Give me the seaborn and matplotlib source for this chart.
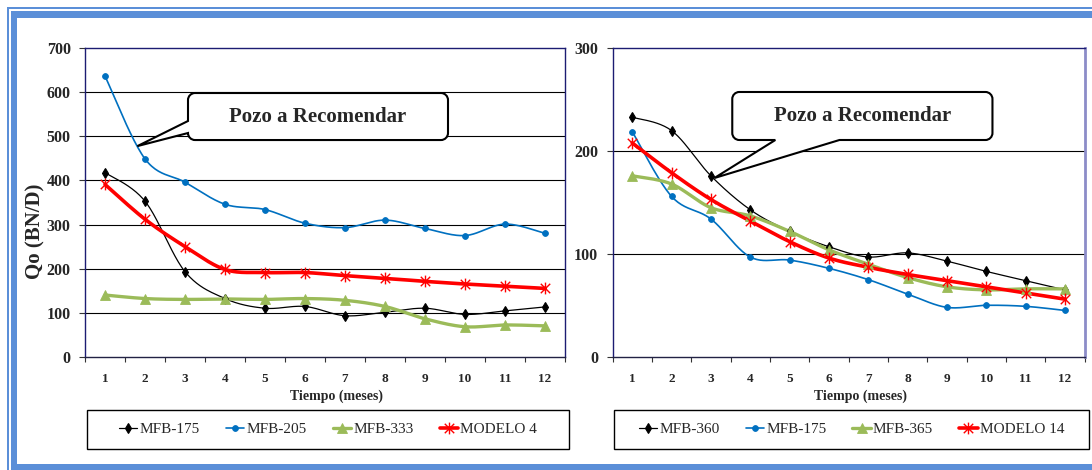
import numpy as np
import matplotlib
matplotlib.use("Agg")
import matplotlib.pyplot as plt
import seaborn as sns
from matplotlib.path import Path
from matplotlib.patches import PathPatch, Rectangle
from matplotlib.lines import Line2D
from matplotlib.transforms import IdentityTransform

# ---------------- datos ----------------
meses = list(range(1, 13))

# Panel izquierdo
mfb_175_a = [418, 353, 193, 132, 110, 114, 93, 101, 110, 96, 104, 113]
mfb_205 = [637, 449, 396, 346, 334, 303, 293, 310, 291, 275, 301, 280]
mfb_333 = [140, 132, 130, 131, 130, 132, 128, 114, 86, 68, 72, 70]
modelo_4 = [391, 312, 250, 198, 191, 191, 184, 178, 171, 165, 160, 155]

# Panel derecho
mfb_360 = [233, 220, 176, 143, 122, 107, 97, 101, 93, 83, 74, 65]
mfb_175_b = [219, 156, 134, 97, 94, 86, 75, 61, 48, 50, 49, 45]
mfb_365 = [176, 168, 145, 137, 122, 104, 90, 77, 68, 65, 66, 66]
modelo_14 = [208, 179, 153, 132, 112, 96, 87, 80, 74, 68, 62, 56]

etiquetas_izq = ["MFB-175", "MFB-205", "MFB-333", "MODELO 4"]
etiquetas_der = ["MFB-360", "MFB-175", "MFB-365", "MODELO 14"]
yticks_izq = [0, 100, 200, 300, 400, 500, 600, 700]
yticks_der = [0, 100, 200, 300]

# ---------------- estilo ----------------
sns.set_theme(style="white")
plt.rcParams["font.family"] = ["Liberation Serif", "DejaVu Serif"]

W, H = 1092, 470
fig = plt.figure(figsize=(W / 100, H / 100), dpi=100)
fig.patch.set_facecolor("white")

NAVY = "#1c1c72"
FRAME = "#5b8fd8"

# marcador estrella tipo Excel: aspa + trazo vertical
star = Path([(-1, -1), (1, 1), (-1, 1), (1, -1), (0, -1.25), (0, 1.25)],
            [Path.MOVETO, Path.LINETO, Path.MOVETO, Path.LINETO, Path.MOVETO, Path.LINETO])

estilos = [
    dict(color="black", lw=0.9, marker="d", ms=5.0, mew=0.8),
    dict(color="#0070c0", lw=1.2, marker="o", ms=4.2, mew=0.6),
    dict(color="#9bbb59", lw=2.4, marker="^", ms=7.0, mew=0.6),
    dict(color="#ff0000", lw=2.6, marker=star, ms=8.5, mew=1.0),
]


def px(x, y):
    """pixel (desde arriba-izquierda) -> fracción de figura"""
    return x / W, 1 - y / H


def suavizar(x, y, n=24):
    """curva Catmull-Rom que pasa por los puntos (línea suavizada)"""
    x = np.asarray(x, float)
    y = np.asarray(y, float)
    P = np.column_stack([x, y])
    P = np.vstack([P[0], P, P[-1]])
    out = []
    t = np.linspace(0, 1, n, endpoint=False)[:, None]
    for i in range(1, len(P) - 2):
        p0, p1, p2, p3 = P[i - 1], P[i], P[i + 1], P[i + 2]
        seg = 0.5 * (2 * p1 + (-p0 + p2) * t + (2 * p0 - 5 * p1 + 4 * p2 - p3) * t ** 2
                     + (-p0 + 3 * p1 - 3 * p2 + p3) * t ** 3)
        out.append(seg)
    out.append(P[-2][None, :])
    out = np.vstack(out)
    return out[:, 0], out[:, 1]


def panel(rect, series, ymax, yticks, ylabel):
    ax = fig.add_axes(rect)
    ax.set_facecolor("white")
    for vals, st in zip(series, estilos):
        xs, ys = suavizar(meses, vals)
        sns.lineplot(x=xs, y=ys, ax=ax, color=st["color"], lw=st["lw"],
                     sort=False, estimator=None, zorder=3)
        sns.lineplot(x=meses, y=vals, ax=ax, color=st["color"], linestyle="",
                     marker=st["marker"], markersize=st["ms"],
                     markeredgecolor=st["color"], markerfacecolor=st["color"],
                     markeredgewidth=st["mew"], estimator=None, zorder=4)
    ax.set_xlim(0.5, 12.5)
    ax.set_ylim(0, ymax)
    ax.set_yticks(yticks)
    ax.set_yticklabels([str(v) for v in yticks], fontsize=11.5, fontweight="bold")
    ax.set_xticks(meses)
    ax.set_xticklabels([str(m) for m in meses], fontsize=9.5, fontweight="bold")
    ax.set_xticks(np.arange(0.5, 13, 1), minor=True)
    ax.tick_params(axis="x", which="major", length=0, pad=12)
    ax.tick_params(axis="x", which="minor", length=3.5, width=0.8, color="#333333",
                   direction="out", bottom=True)
    ax.tick_params(axis="y", which="major", length=4.3, width=0.8, color="#333333",
                   direction="out", left=True, pad=6)
    for v in yticks[1:-1]:
        ax.axhline(v, color="black", lw=0.8, zorder=1)
    for s in ax.spines.values():
        s.set_visible(True)
        s.set_color(NAVY)
        s.set_linewidth(1.0)
    ax.spines["bottom"].set_color("#222244")
    ax.set_xlabel("Tiempo (meses)", fontsize=10, fontweight="bold", va="top")
    ax.xaxis.set_label_coords(0.525, -0.105)
    if ylabel:
        ax.set_ylabel(ylabel, fontsize=15, fontweight="bold", va="center")
        ax.yaxis.set_label_coords((35 - 85) / 480, (356.7 - 231) / 308.4)
    else:
        ax.set_ylabel("")
    legend = ax.get_legend()
    if legend is not None:
        legend.remove()
    return ax


y_top, y_bot = 48.3, 356.7
l0, b0 = px(85, y_bot)
l1, _ = px(565, y_bot)
r0, _ = px(612.5, y_bot)
r1, _ = px(1084.5, y_bot)
h = (y_bot - y_top) / H

ax1 = panel([l0, b0, l1 - l0, h], [mfb_175_a, mfb_205, mfb_333, modelo_4],
            700, yticks_izq, "Qo (BN/D)")
ax2 = panel([r0, b0, r1 - r0, h], [mfb_360, mfb_175_b, mfb_365, modelo_14],
            300, yticks_der, None)
ax2.spines["right"].set_color("#8c8cc8")
ax2.spines["right"].set_linewidth(2.0)


# ---------------- globos "Pozo a Recomendar" ----------------
def globo(ax, caja, punta, base, lado, texto, r=7):
    T = ax.transData
    L, B = T.transform((caja[0], caja[2]))
    R, Tp = T.transform((caja[1], caja[3]))
    tx, ty = T.transform(punta)
    k = 0.5523 * r
    verts, codes = [], []

    def mv(p):
        verts.append(p); codes.append(Path.MOVETO)

    def ln(p):
        verts.append(p); codes.append(Path.LINETO)

    def cc(a, b, c):
        verts.extend([a, b, c]); codes.extend([Path.CURVE4] * 3)

    mv((L + r, Tp))
    ln((R - r, Tp))
    cc((R - r + k, Tp), (R, Tp - r + k), (R, Tp - r))
    ln((R, B + r))
    cc((R, B + r - k), (R - r + k, B), (R - r, B))
    if lado == "bottom":
        xa = T.transform((base[1], caja[2]))[0]
        xb = T.transform((base[0], caja[2]))[0]
        ln((xa, B)); ln((tx, ty)); ln((xb, B))
    ln((L + r, B))
    cc((L + r - k, B), (L, B + r - k), (L, B + r))
    if lado == "left":
        ya = T.transform((caja[0], base[0]))[1]
        yb = T.transform((caja[0], base[1]))[1]
        ln((L, ya)); ln((tx, ty)); ln((L, yb))
    ln((L, Tp - r))
    cc((L, Tp - r + k), (L + r - k, Tp), (L + r, Tp))
    verts.append((L + r, Tp)); codes.append(Path.CLOSEPOLY)
    patch = PathPatch(Path(verts, codes), facecolor="white", edgecolor="black",
                      lw=1.5, transform=IdentityTransform(), zorder=6, clip_on=False)
    ax.add_artist(patch)
    cx, cy = (caja[0] + caja[1]) / 2, (caja[2] + caja[3]) / 2
    ax.text(cx, cy, texto, ha="center", va="center", fontsize=15,
            fontweight="bold", zorder=7)


globo(ax1, (3.075, 9.575, 491.8, 598.5), (1.81, 478), (507.7, 535), "left",
      "Pozo a Recomendar")
globo(ax2, (3.545, 10.16, 210.8, 257.5), (3.09, 173.8), (4.64, 6.27), "bottom",
      "Pozo a Recomendar")


# ---------------- leyendas ----------------
def leyenda(x0, x1, y0, y1, etiquetas):
    a, b = px(x0, y1)
    c, d = px(x1, y0)
    fig.add_artist(Rectangle((a, b), c - a, d - b, transform=fig.transFigure,
                             facecolor="white", edgecolor="black", lw=1.0, zorder=2))
    handles = [Line2D([], [], color=st["color"], lw=st["lw"], marker=st["marker"],
                      markersize=st["ms"], markeredgecolor=st["color"],
                      markerfacecolor=st["color"], markeredgewidth=st["mew"])
               for st in estilos]
    fig.legend(handles, etiquetas, loc="center", bbox_to_anchor=((a + c) / 2, (b + d) / 2),
               ncol=4, frameon=False, fontsize=11, handlelength=1.2,
               handletextpad=0.15, columnspacing=1.7, borderpad=0)


leyenda(87, 569, 410, 449, etiquetas_izq)
leyenda(614, 1089, 410, 449, etiquetas_der)

# ---------------- marco azul ----------------
def banda(x0, y0, x1, y1):
    a, b = px(x0, y1)
    c, d = px(x1, y0)
    fig.add_artist(Rectangle((a, b), c - a, d - b, transform=fig.transFigure,
                             facecolor=FRAME, edgecolor="none", zorder=1))


banda(7, 7, W, 9)        # filete superior
banda(7, 7, 9, H)        # filete izquierdo
banda(11, 11, W, 18)     # banda superior
banda(11, 11, 17.5, H)   # banda izquierda
banda(11, 463.5, W, H)   # banda inferior

fig.savefig("out.png", dpi=100, facecolor="white")
